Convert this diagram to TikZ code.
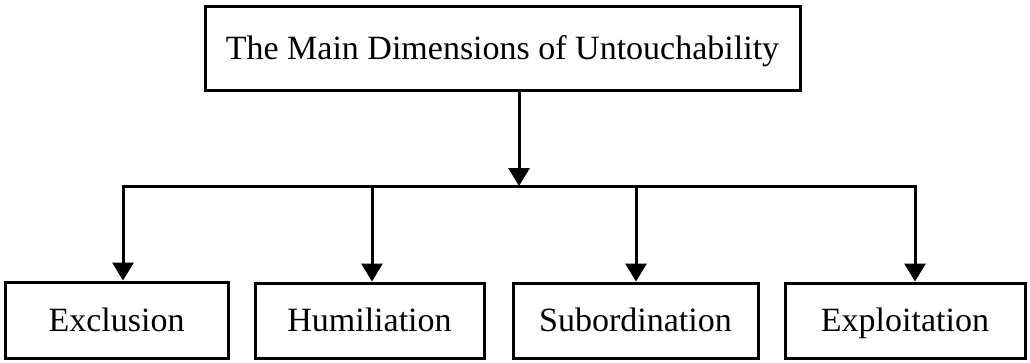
\documentclass[tikz,border=0pt]{standalone}
\usepackage{fontspec}
\setmainfont{Liberation Serif}
\usetikzlibrary{arrows.meta}
\begin{document}
\begin{tikzpicture}[x=1pt,y=-1pt,
  box/.style={draw,line width=3pt,rectangle,inner sep=0pt,
    text height=22pt,text depth=0pt,
    font=\fontsize{34}{40}\selectfont},
  conn/.style={line width=3pt,line cap=rect},
  arr/.style={conn,-{Triangle[length=18pt,width=21pt]}}]
\useasboundingbox (0,0) rectangle (1030,362);
\node[box,minimum width=595pt,minimum height=84pt] (top) at (502.5,48) {The Main Dimensions of Untouchability};
\node[box,minimum width=223pt,minimum height=76pt] (excl) at (116.5,320) {Exclusion};
\node[box,minimum width=229pt,minimum height=75pt] (hum) at (369.5,320.5) {Humiliation};
\node[box,minimum width=245pt,minimum height=75pt] (sub) at (635.5,320.5) {Subordination};
\node[box,minimum width=240pt,minimum height=75pt] (expl) at (905,320.5) {Exploitation};
\coordinate (hub) at (519,186);
\coordinate (b1) at (123,186);
\coordinate (b2) at (372,186);
\coordinate (b3) at (636,186);
\coordinate (b4) at (915,186);
\draw[arr] (top.south -| hub) -- (hub);
\draw[conn] (b1) -- (b4);
\draw[arr] (b1) -- (b1 |- excl.north);
\draw[arr] (b2) -- (b2 |- hum.north);
\draw[arr] (b3) -- (b3 |- sub.north);
\draw[arr] (b4) -- (b4 |- expl.north);
\end{tikzpicture}
\end{document}
